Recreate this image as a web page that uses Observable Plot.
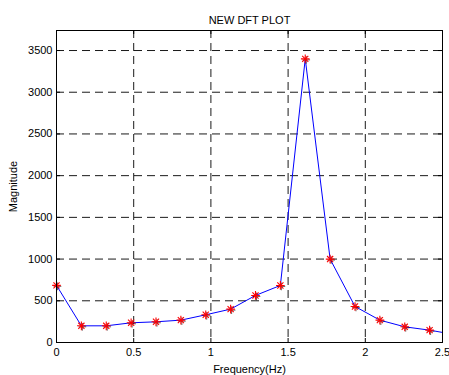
<!DOCTYPE html>
<html>
<head>
<meta charset="utf-8">
<script src="https://cdn.jsdelivr.net/npm/d3@7"></script>
<script src="https://cdn.jsdelivr.net/npm/@observablehq/plot@0.6"></script>
<style>
  html, body { margin: 0; padding: 0; background: #fff; }
  svg { display: block; }
</style>
</head>
<body>
<div id="chart"></div>
<script>
const freqStep = 0.1611;
const magnitudes = [685, 200, 200, 236, 248, 268, 332, 400, 564, 684, 3400, 1000, 432, 268, 188, 148, 95];
const frequencies = magnitudes.map((_, i) => i * freqStep);
const xTicks = [0, 0.5, 1, 1.5, 2, 2.5];
const yTicks = [0, 500, 1000, 1500, 2000, 2500, 3000, 3500];
const titleText = "NEW DFT PLOT";
const xLabel = "Frequency(Hz)";
const yLabel = "Magnitude";

const data = frequencies.map((f, i) => ({f, m: magnitudes[i]}));
const visible = data.filter(d => d.f <= 2.5);

const W = 449, H = 375, mL = 56, mR = 7, mT = 30, mB = 33;
const innerW = W - mL - mR, innerH = H - mT - mB;
const tk = 4;

const chart = Plot.plot({
  width: W, height: H,
  marginLeft: mL, marginRight: mR, marginTop: mT, marginBottom: mB,
  style: {fontFamily: "'Liberation Sans', Arial, sans-serif", fontSize: "11px", background: "#fff", color: "#000"},
  x: {domain: [0, 2.5]},
  y: {domain: [0, 3740]},
  marks: [
    Plot.gridX(xTicks, {stroke: "#000", strokeOpacity: 0.9, strokeDasharray: "8,5"}),
    Plot.gridY(yTicks, {stroke: "#000", strokeOpacity: 0.9, strokeDasharray: "8,5"}),
    Plot.tickX(xTicks, {x: d => d, insetTop: innerH - tk, stroke: "#000"}),
    Plot.tickX(xTicks, {x: d => d, insetBottom: innerH - tk, stroke: "#000"}),
    Plot.tickY(yTicks, {y: d => d, insetRight: innerW - tk, stroke: "#000"}),
    Plot.tickY(yTicks, {y: d => d, insetLeft: innerW - tk, stroke: "#000"}),
    Plot.axisX(xTicks, {tickSize: 0, tickPadding: 6, tickFormat: d => String(d), label: xLabel, labelAnchor: "center", labelArrow: "none", labelOffset: 30, fontSize: 11}),
    Plot.axisY(yTicks, {tickSize: 0, tickPadding: 4, tickFormat: d => String(d), label: yLabel, labelAnchor: "center", labelArrow: "none", labelOffset: 47, fontSize: 11}),
    Plot.line(data, {x: "f", y: "m", stroke: "#0000ff", strokeWidth: 1, clip: true}),
    Plot.dot(visible, {x: "f", y: "m", symbol: "plus", r: 2.6, stroke: "#000", strokeOpacity: 0.6, strokeWidth: 1, dx: 1, dy: 1}),
    Plot.dot(visible, {x: "f", y: "m", symbol: "plus", r: 2.9, stroke: "#ff0000", strokeWidth: 1.1}),
    Plot.dot(visible, {x: "f", y: "m", symbol: "times", r: 2.9, stroke: "#ff0000", strokeWidth: 1.1}),
    Plot.frame({stroke: "#000"}),
    Plot.text([titleText], {text: d => d, frameAnchor: "top", dy: -14, fontSize: 11, fill: "#000"})
  ]
});
document.getElementById("chart").appendChild(chart);
</script>
</body>
</html>
